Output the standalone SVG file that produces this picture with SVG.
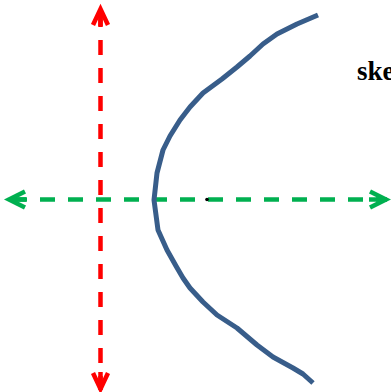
<svg xmlns="http://www.w3.org/2000/svg" width="391" height="392" viewBox="0 0 391 392">
  <style>
    .axis { fill: none; stroke-width: 4.5; stroke-dasharray: 15 13; stroke-dashoffset: -4; }
    .red { stroke: #FF0000; }
    .green { stroke: #00B050; }
    .curve { fill: none; stroke: #385D8A; stroke-width: 5; stroke-linejoin: round; stroke-linecap: butt; }
    .label { font-family: "Liberation Serif", "Times New Roman", serif; font-weight: bold; font-size: 27px; fill: #000; }
  </style>
  <defs>
    <marker id="headRed" markerUnits="userSpaceOnUse" viewBox="-22 -12 26 24" refX="0" refY="0" markerWidth="26" markerHeight="24" orient="auto-start-reverse" overflow="visible">
      <path d="M-17,-7.5 L-1,0 L-17,7.5" fill="none" stroke="#FF0000" stroke-width="4.5" stroke-linejoin="miter" stroke-miterlimit="10"/>
      <path d="M-18,0 L-2,0" stroke="#FF0000" stroke-width="4.5"/>
    </marker>
    <marker id="headGreen" markerUnits="userSpaceOnUse" viewBox="-22 -12 26 24" refX="0" refY="0" markerWidth="26" markerHeight="24" orient="auto-start-reverse" overflow="visible">
      <path d="M-17,-8 L-1,0 L-17,8" fill="none" stroke="#00B050" stroke-width="4.5" stroke-linejoin="miter" stroke-miterlimit="10"/>
      <path d="M-18,0 L-2,0" stroke="#00B050" stroke-width="4.5"/>
    </marker>
  </defs>
  <rect width="391" height="392" fill="#FFFFFF"/>
  <g id="connectors">
    <line class="axis red" x1="100.5" y1="8" x2="100.5" y2="390" marker-start="url(#headRed)" marker-end="url(#headRed)"/>
    <line class="axis green" x1="8" y1="199.5" x2="387" y2="199.5" marker-start="url(#headGreen)" marker-end="url(#headGreen)"/>
  </g>
  <g id="curve">
    <polyline class="curve" points="318,15 297,24 277,34 263,44 250,56 237,67 222,79 203,93 190,107 180,120 170,136 163,150 157,173 154,200 158,230 167,250 176,266 183,278 190,288 203,302 217,315 237,328 257,345 273,357 293,368 303,374 313,383"/>
  </g>
  <g id="dot">
    <circle cx="207" cy="199.5" r="1.8" fill="#000"/>
  </g>
  <g id="label">
    <text class="label" x="357" y="80">ske</text>
  </g>
</svg>
